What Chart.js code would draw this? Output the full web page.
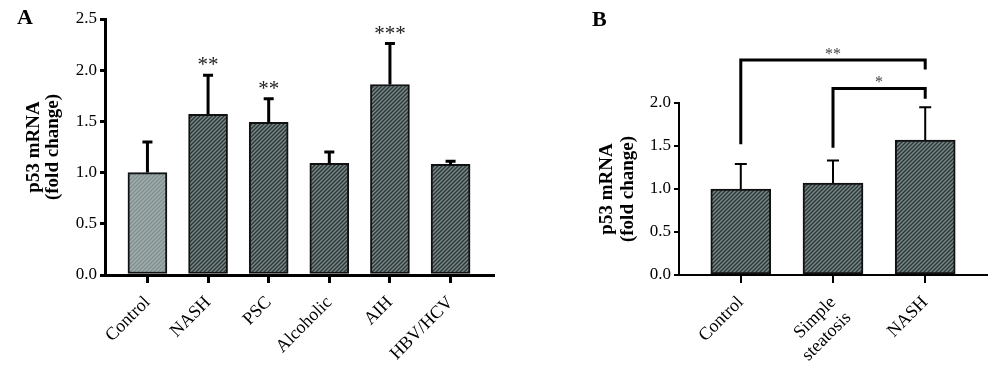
<!DOCTYPE html>
<html>
<head>
<meta charset="utf-8">
<script src="https://cdn.jsdelivr.net/npm/chart.js@4"></script>
<style>
  body { margin: 0; background: #fff; }
  #wrap { position: relative; width: 1000px; height: 367px; overflow: hidden; }
  canvas { position: absolute; top: 0; }
  .panel { position: absolute; font: bold 22px "Liberation Serif", serif; color: #000; }
</style>
</head>
<body>
<div id="wrap">
  <canvas id="chartA" width="500" height="367" style="left:0"></canvas>
  <canvas id="chartB" width="500" height="367" style="left:500px"></canvas>
  <div class="panel" style="left:17px; top:4px">A</div>
  <div class="panel" style="left:592px; top:6px">B</div>
</div>
<script>
// panel A data
const labelsA = ['Control', 'NASH', 'PSC', 'Alcoholic', 'AIH', 'HBV/HCV'];
const meanA = [1.00, 1.57, 1.49, 1.09, 1.86, 1.08];
const semA = [0.30, 0.38, 0.23, 0.11, 0.40, 0.03];
const starsA = ['', '**', '**', '', '***', ''];
const ticksA = [0, 0.5, 1.0, 1.5, 2.0, 2.5];

// panel B data
const labelsB = ['Control', ['Simple', 'steatosis'], 'NASH'];
const meanB = [1.00, 1.07, 1.57];
const semB = [0.29, 0.26, 0.38];
const ticksB = [0, 0.5, 1.0, 1.5, 2.0];

// significance brackets in B (bar index and y value ends)
const bracketFrom = [0, 1];
const bracketTo = [2, 2];
const bracketTop = [2.50, 2.17];
const bracketLeftEnd = [1.52, 1.48];
const bracketRightEnd = [2.39, 2.05];
const bracketStars = ['**', '*'];

const FONT = '"Liberation Serif", serif';

/**
 * Diagonal hatch fill
 */
function hatch(bg, fg) {
	const c = document.createElement('canvas');
	c.width = 4; c.height = 4;
	const g = c.getContext('2d');
	g.fillStyle = bg;
	g.fillRect(0, 0, 4, 4);
	g.strokeStyle = fg;
	g.lineWidth = 1.4;
	g.beginPath();
	g.moveTo(0, 4); g.lineTo(4, 0);
	g.moveTo(-1, 1); g.lineTo(1, -1);
	g.moveTo(3, 5); g.lineTo(5, 3);
	g.stroke();
	return g.createPattern(c, 'repeat');
}

const lightFill = hatch('#7f8f8f', '#a3afaf');
const darkFill = hatch('#798888', '#2c3636');

/**
 * Error bars (up only) + stars above them
 */
function errorPlugin(means, sems, stars, lw, cap, starFont) {
	return {
		id: 'errbars',
		afterDatasetsDraw(chart) {
			const ctx = chart.ctx;
			const xs = chart.scales.x, ys = chart.scales.y;
			ctx.save();
			ctx.strokeStyle = '#000';
			ctx.lineWidth = lw;
			ctx.lineCap = 'butt';
			means.forEach((m, i) => {
				const x = xs.getPixelForValue(i);
				const y0 = ys.getPixelForValue(m);
				const y1 = ys.getPixelForValue(m + sems[i]);
				ctx.beginPath();
				ctx.moveTo(x, y0);
				ctx.lineTo(x, y1);
				ctx.moveTo(x - cap / 2, y1);
				ctx.lineTo(x + cap / 2, y1);
				ctx.stroke();
				if (stars && stars[i]) {
					ctx.fillStyle = '#222';
					ctx.font = starFont;
					ctx.textAlign = 'center';
					ctx.textBaseline = 'alphabetic';
					ctx.fillText(stars[i], x, y1 - 4);
				}
			});
			ctx.restore();
		}
	};
}

const bracketPlugin = {
	id: 'brackets',
	afterDatasetsDraw(chart) {
		const ctx = chart.ctx;
		const xs = chart.scales.x, ys = chart.scales.y;
		ctx.save();
		ctx.strokeStyle = '#000';
		ctx.lineWidth = 3;
		bracketFrom.forEach((f, i) => {
			const xa = xs.getPixelForValue(f);
			const xb = xs.getPixelForValue(bracketTo[i]);
			const yt = ys.getPixelForValue(bracketTop[i]);
			ctx.beginPath();
			ctx.moveTo(xa, ys.getPixelForValue(bracketLeftEnd[i]));
			ctx.lineTo(xa, yt);
			ctx.lineTo(xb, yt);
			ctx.lineTo(xb, ys.getPixelForValue(bracketRightEnd[i]));
			ctx.stroke();
			ctx.fillStyle = '#444';
			ctx.font = '16px ' + FONT;
			ctx.textAlign = 'center';
			ctx.textBaseline = 'alphabetic';
			ctx.fillText(bracketStars[i], (xa + xb) / 2, yt - 1);
		});
		ctx.restore();
	}
};

function xScale(labels, lo, hi, lw) {
	return {
		type: 'linear',
		min: lo,
		max: hi,
		offset: false,
		afterBuildTicks: s => { s.ticks = labels.map((_, i) => ({ value: i })); },
		afterFit: s => { s.height = 92; },
		grid: { drawOnChartArea: false, offset: false, color: '#000', lineWidth: lw, tickLength: 8 },
		border: { color: '#000', width: lw },
		ticks: {
			autoSkip: false,
			minRotation: 45,
			maxRotation: 45,
			padding: 9,
			color: '#000',
			font: { family: FONT, size: 18 },
			callback: (v, i) => labels[i]
		}
	};
}

function yScale(tickVals, width, lw, titlePad, lineH) {
	return {
		min: 0,
		max: tickVals[tickVals.length - 1],
		afterBuildTicks: s => { s.ticks = tickVals.map(v => ({ value: v })); },
		afterFit: s => { s.width = width; },
		grid: { drawOnChartArea: false, color: '#000', lineWidth: lw, tickLength: 5 },
		border: { color: '#000', width: lw },
		ticks: {
			padding: 3,
			color: '#000',
			font: { family: FONT, size: 17 },
			callback: v => v.toFixed(1)
		},
		title: {
			display: true,
			text: ['p53 mRNA', '(fold change)'],
			color: '#000',
			font: { family: FONT, size: 19, weight: 'bold', lineHeight: lineH },
			padding: { top: titlePad, bottom: 0 }
		}
	};
}

function barData(means, fills, thick) {
	return {
		datasets: [{
			data: means.map((v, i) => ({ x: i, y: v })),
			backgroundColor: fills,
			borderColor: '#111',
			borderWidth: 2,
			borderSkipped: false,
			barThickness: thick
		}]
	};
}

new Chart(document.getElementById('chartA'), {
	type: 'bar',
	data: barData(meanA, meanA.map((_, i) => i === 0 ? lightFill : darkFill), 39),
	options: {
		responsive: false,
		animation: false,
		layout: { padding: { top: 19, right: 7, left: 0, bottom: 0 } },
		plugins: { legend: { display: false }, tooltip: { enabled: false } },
		scales: {
			x: xScale(labelsA, -0.7, 5.7, 3),
			y: yScale(ticksA, 105, 3, 25, 1.0)
		}
	},
	plugins: [errorPlugin(meanA, semA, starsA, 3, 10, '21px ' + FONT)]
});

new Chart(document.getElementById('chartB'), {
	type: 'bar',
	data: barData(meanB, meanB.map(() => darkFill), 60),
	options: {
		responsive: false,
		animation: false,
		layout: { padding: { top: 103, right: 13, left: 0, bottom: 0 } },
		plugins: { legend: { display: false }, tooltip: { enabled: false } },
		scales: {
			x: xScale(labelsB, -0.67, 2.67, 2),
			y: yScale(ticksB, 179, 2, 97, 1.1)
		}
	},
	plugins: [errorPlugin(meanB, semB, null, 2, 12, ''), bracketPlugin]
});
</script>
</body>
</html>
